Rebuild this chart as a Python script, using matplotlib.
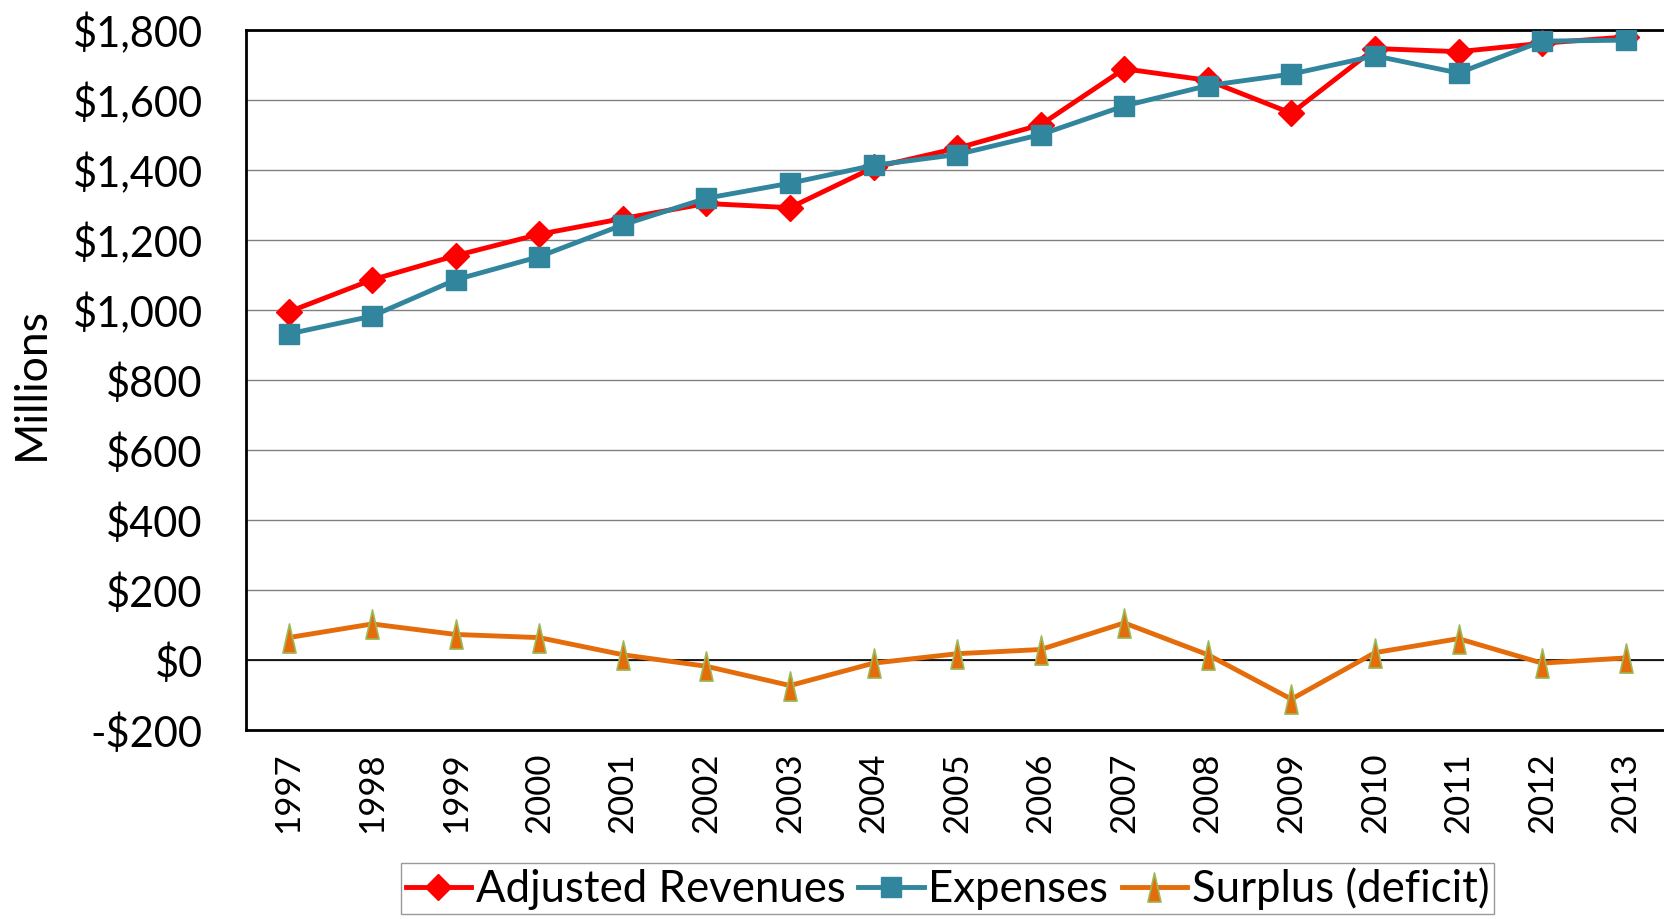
import matplotlib
matplotlib.use('Agg')
import matplotlib.pyplot as plt
from matplotlib.path import Path
from matplotlib.ticker import FuncFormatter

# Valores (milhões de dólares)
anos = ['1997', '1998', '1999', '2000', '2001', '2002', '2003', '2004', '2005',
        '2006', '2007', '2008', '2009', '2010', '2011', '2012', '2013']
receitas = [995, 1087, 1156, 1217, 1262, 1305, 1293, 1408, 1463,
            1530, 1690, 1657, 1563, 1748, 1739, 1763, 1781]
despesas = [932, 983, 1087, 1153, 1244, 1320, 1363, 1414, 1445,
            1502, 1584, 1642, 1675, 1727, 1678, 1769, 1772]
superavit = [64, 103, 73, 64, 15, -18, -73, -9, 18,
             30, 106, 15, -112, 21, 61, -9, 6]

plt.rcParams['font.family'] = ['Lato', 'DejaVu Sans']

def moeda(v, pos):
    if v < 0:
        return '-${:,.0f}'.format(-v)
    return '${:,.0f}'.format(v)

def main():
    fig = plt.figure(figsize=(16.65, 9.19), dpi=100)
    ax = fig.add_axes([0.1477, 0.2057, 0.8523, 0.7613])

    x = list(range(len(anos)))
    tri = Path([(-0.45, -1.0), (0.45, -1.0), (0.0, 1.0), (-0.45, -1.0)],
               [Path.MOVETO, Path.LINETO, Path.LINETO, Path.CLOSEPOLY])

    ax.plot(x, receitas, '-', color='#FF0000', lw=3.5, marker='D', ms=13,
            label='Adjusted Revenues', zorder=4)
    ax.plot(x, despesas, '-', color='#31859C', lw=3.5, marker='s', ms=14,
            label='Expenses', zorder=5)
    ax.plot(x, superavit, '-', color='#E46C0A', lw=3.5, marker=tri, ms=21,
            mfc='#E46C0A', mec='#9BBB59', mew=1.2,
            label='Surplus (deficit)', zorder=4)

    ax.set_xlim(-0.51, 16.47)
    ax.set_ylim(-200, 1800)
    ax.set_yticks(range(-200, 1801, 200))
    ax.yaxis.set_major_formatter(FuncFormatter(moeda))
    ax.set_xticks(x)
    ax.set_xticklabels(anos, rotation=90)
    ax.tick_params(axis='y', labelsize=30, length=0, pad=31)
    ax.tick_params(axis='x', labelsize=25, length=0, pad=16)
    for lab in ax.get_yticklabels():
        lab.set_horizontalalignment('right')

    ax.grid(axis='y', color='#808080', lw=1)
    ax.axhline(0, color='black', lw=1.2, zorder=3)
    ax.set_axisbelow(True)
    for s in ['left', 'bottom', 'top']:
        ax.spines[s].set_linewidth(2)
    ax.spines['right'].set_visible(False)

    fig.text(0.019, 0.583, 'Millions', rotation=90, fontsize=32,
             ha='center', va='center')

    leg = fig.legend(loc='upper center', bbox_to_anchor=(0.569, 0.061), ncol=3,
                     fontsize=31.5, frameon=True, fancybox=False, edgecolor='#808080',
                     handlelength=1.5, handletextpad=0.1, columnspacing=0.3,
                     borderpad=0.1, borderaxespad=0)
    leg.get_frame().set_linewidth(1)

    fig.savefig('out.png', dpi=100)

if __name__ == '__main__':
    main()
